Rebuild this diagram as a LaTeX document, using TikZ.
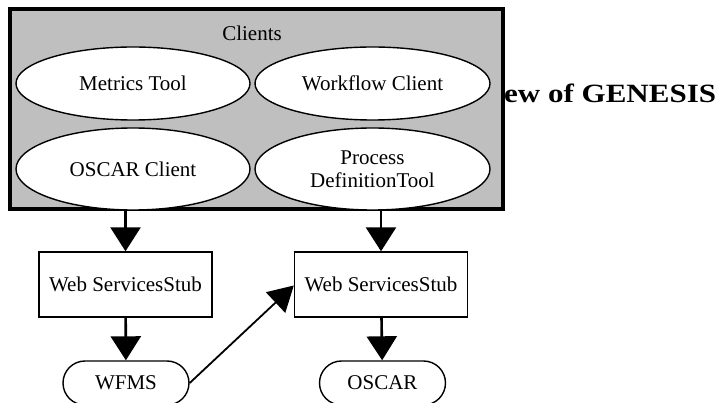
\documentclass[tikz,border=0pt]{standalone}
\usepackage{fontspec}
\usepackage{graphicx}
\setmainfont{Liberation Serif}
\usetikzlibrary{shapes.geometric,arrows.meta}
\begin{document}
\begin{tikzpicture}[x=1pt,y=-1pt,
  txt/.style={font=\fontsize{21}{23}\selectfont},
  client/.style={ellipse,draw,fill=white,line width=1.4pt,inner sep=0pt,txt,align=center},
  stub/.style={rectangle,draw,fill=white,line width=1.4pt,minimum width=173pt,minimum height=65pt,inner sep=0pt,txt},
  store/.style={rectangle,draw,fill=white,line width=1.4pt,rounded corners=22pt,minimum width=126pt,minimum height=44pt,inner sep=0pt,txt},
  flow/.style={line width=2.6pt,-{Triangle[length=24pt,width=30pt]}},
  dflow/.style={line width=1.8pt,-{Triangle[length=25pt,width=28pt]}}]
\useasboundingbox (0,0) rectangle (721,403);
\node[anchor=base west,font=\fontsize{31}{33}\selectfont\bfseries,inner sep=0pt] (title) at (504,103) {\scalebox{1}[0.85]{ew of GENESIS}};
\node[draw,fill=black!25,line width=4pt,minimum width=493pt,minimum height=200pt,inner sep=0pt] (clients) at (256.5,109) {};
\node[txt] (clientslbl) at (252,33) {Clients};
\node[client,minimum width=234pt,minimum height=73pt] (metrics) at (133,83.5) {Metrics Tool};
\node[client,minimum width=235pt,minimum height=73pt] (workflow) at (372.5,83.5) {Workflow Client};
\node[client,minimum width=234pt,minimum height=82pt] (oscarc) at (133,169) {OSCAR Client};
\node[client,minimum width=235pt,minimum height=82pt] (procdef) at (372.5,169) {Process\\DefinitionTool};
\node[stub] (ws1) at (125.5,284.5) {Web ServicesStub};
\node[stub] (ws2) at (381,284.5) {Web ServicesStub};
\node[store] (wfms) at (126,383) {WFMS};
\node[store] (oscar) at (382.5,383) {OSCAR};
\draw[flow] (ws1.north |- clients.south) -- (ws1.north);
\draw[flow] (ws2.north |- clients.south) -- (ws2.north);
\draw[flow] (ws1) -- (wfms);
\draw[flow] (ws2) -- (oscar);
\draw[dflow] (wfms.east) -- ([yshift=-1pt]ws2.west);
\end{tikzpicture}
\end{document}
